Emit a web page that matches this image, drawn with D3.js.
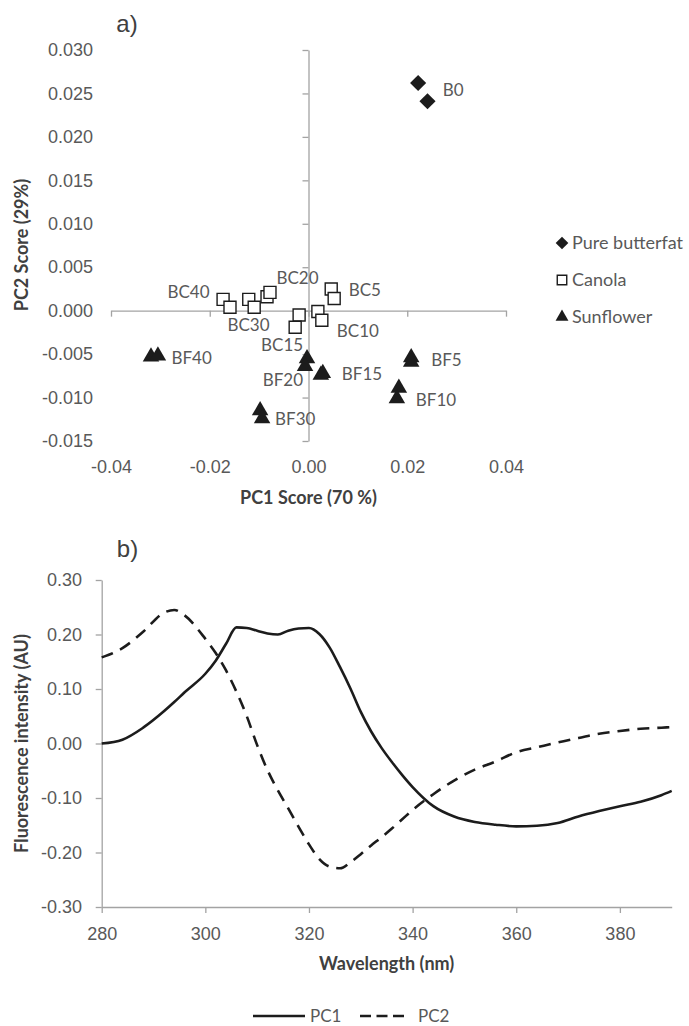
<!DOCTYPE html>
<html>
<head>
<meta charset="utf-8">
<script src="https://cdn.jsdelivr.net/npm/d3@7"></script>
<style>
  body { margin: 0; background: #fff; }
  svg { display: block; font-family: Lato, "Open Sans", sans-serif; }
</style>
</head>
<body>
<svg id="fig" width="689" height="1026"></svg>
<script>
// ---- panel a) PCA scores ----
var sampleNames = ["B0","BC5","BC10","BC15","BC20","BC30","BC40","BF5","BF10","BF15","BF20","BF30","BF40"];
var sampleOil = ["Pure butterfat","Canola","Canola","Canola","Canola","Canola","Canola",
                 "Sunflower","Sunflower","Sunflower","Sunflower","Sunflower","Sunflower"];
var pc1Rep1 = [0.0222, 0.0046, 0.0019, -0.0019, -0.0084, -0.0121, -0.0173, 0.0208, 0.0183, 0.0025, -0.0003, -0.0098, -0.0319];
var pc2Rep1 = [0.0262, 0.0025, -0.0001, -0.0005, 0.0016, 0.0013, 0.0013, -0.0054, -0.0089, -0.0074, -0.0055, -0.0115, -0.0053];
var pc1Rep2 = [0.0241, 0.0052, 0.0027, -0.0027, -0.0078, -0.0110, -0.0159, 0.0208, 0.0179, 0.0029, -0.0007, -0.0094, -0.0305];
var pc2Rep2 = [0.0241, 0.0014, -0.0011, -0.0019, 0.0021, 0.0004, 0.0004, -0.0059, -0.0101, -0.0072, -0.0064, -0.0124, -0.0052];
var oilTypes = ["Pure butterfat","Canola","Sunflower"];
var pc1Ticks = [-0.04, -0.02, 0, 0.02, 0.04];
var pc2Ticks = [-0.015, -0.010, -0.005, 0, 0.005, 0.010, 0.015, 0.020, 0.025, 0.030];

// ---- panel b) loadings ----
var wavelengths = [280, 284, 288, 292, 294, 296, 300, 302, 304, 306, 308, 310, 312, 314, 316, 318, 320, 322, 324, 326, 328, 330,
                   332, 334, 336, 338, 340, 344, 348, 352, 356, 360, 364, 368, 372, 376, 380, 384, 388, 390];
var pc1Loadings = [0.000, 0.007, 0.029, 0.059, 0.076, 0.094, 0.128, 0.152, 0.183, 0.213, 0.212, 0.207, 0.202, 0.200, 0.207, 0.211,
                   0.212, 0.201, 0.176, 0.140, 0.101, 0.058, 0.022, -0.008, -0.034, -0.058, -0.080, -0.115, -0.134, -0.144,
                   -0.149, -0.152, -0.151, -0.146, -0.134, -0.124, -0.115, -0.107, -0.095, -0.087];
var pc2Loadings = [0.158, 0.175, 0.205, 0.240, 0.245, 0.235, 0.192, 0.166, 0.134, 0.095, 0.050, -0.003, -0.049, -0.086, -0.119,
                   -0.153, -0.185, -0.212, -0.226, -0.229, -0.218, -0.203, -0.187, -0.172, -0.156, -0.139, -0.122, -0.093,
                   -0.068, -0.048, -0.033, -0.016, -0.007, 0.002, 0.010, 0.018, 0.023, 0.027, 0.029, 0.030];
var wlTicks = [280, 300, 320, 340, 360, 380];
var loadTicks = [-0.3, -0.2, -0.1, 0, 0.1, 0.2, 0.3];
var seriesNames = ["PC1","PC2"];

// label placement (pixels from the mean of the two replicates)
var labelPos = {
  B0:{a:"start",dx:20,dy:-2}, BC5:{a:"start",dx:16,dy:-4}, BC10:{a:"middle",dx:38,dy:15},
  BC15:{a:"middle",dx:-15,dy:24}, BC20:{a:"middle",dx:29,dy:-17}, BC30:{a:"middle",dx:-3,dy:22},
  BC40:{a:"end",dx:-17,dy:-11}, BF5:{a:"start",dx:20,dy:0}, BF10:{a:"start",dx:18,dy:7},
  BF15:{a:"start",dx:20,dy:0}, BF20:{a:"end",dx:-3,dy:18}, BF30:{a:"start",dx:14,dy:4},
  BF40:{a:"start",dx:17,dy:2}
};

var axisGrey = "#a3a3a3", tickText = "#595959", titleText = "#404040", ink = "#1c1c1c";
var svg = d3.select("#fig");

function styleAxis(g){
  g.selectAll("path,line").attr("stroke", axisGrey).attr("stroke-width", 1.3);
  g.selectAll("text").attr("fill", tickText).style("font-size", "18px");
}

// ================= a) =================
var xa = d3.scaleLinear().domain([-0.04, 0.04]).range([111, 506]);
var ya = d3.scaleLinear().domain([-0.015, 0.030]).range([441, 50]);

svg.append("g").attr("transform", "translate(0," + ya(0) + ")")
  .call(d3.axisBottom(xa).tickValues(pc1Ticks).tickSize(6).tickSizeOuter(0).tickFormat(""))
  .call(styleAxis);
svg.append("g").attr("transform", "translate(" + xa(0) + ",0)")
  .call(d3.axisLeft(ya).tickValues(pc2Ticks).tickSize(6).tickSizeOuter(0).tickFormat(""))
  .call(styleAxis);
// tick labels sit at the plot edges
svg.append("g").attr("transform", "translate(0,441)")
  .call(d3.axisBottom(xa).tickValues(pc1Ticks).tickSize(0).tickPadding(19).tickFormat(function(d){return d.toFixed(2);}))
  .call(styleAxis).call(function(g){ g.select(".domain").remove(); });
svg.append("g").attr("transform", "translate(93,0)")
  .call(d3.axisLeft(ya).tickValues(pc2Ticks).tickSize(0).tickPadding(0).tickFormat(function(d){return d.toFixed(3);}))
  .call(styleAxis).call(function(g){ g.select(".domain").remove(); });

svg.append("text").attr("x", 308.5).attr("y", 504).attr("text-anchor", "middle")
  .attr("fill", titleText).style("font-size", "18px").style("font-weight", "bold").text("PC1 Score (70 %)");
svg.append("text").attr("transform", "translate(28,245) rotate(-90)").attr("text-anchor", "middle")
  .attr("fill", titleText).style("font-size", "18px").style("font-weight", "bold").text("PC2 Score (29%)");
svg.append("text").attr("x", 127).attr("y", 32).attr("text-anchor", "middle")
  .attr("fill", titleText).style("font-family", "'Liberation Sans', Arial, sans-serif").style("font-size", "24px").text("a)");

function marker(oil, big){
  if (oil == "Pure butterfat") return d3.symbol().type(d3.symbolSquare).size(big ? 130 : 80)();
  if (oil == "Canola") return d3.symbol().type(d3.symbolSquare).size(big ? 144 : 90)();
  return d3.symbol().type(d3.symbolTriangle).size(big ? 118 : 72)();
}
function markerStyle(sel){
  sel.attr("fill", function(d){ return d.oil == "Canola" ? "#fff" : ink; })
     .attr("stroke", function(d){ return d.oil == "Canola" ? ink : "none"; })
     .attr("stroke-width", 1.4);
}

var points = [];
sampleNames.forEach(function(n, i){
  points.push({name:n, oil:sampleOil[i], pc1:pc1Rep1[i], pc2:pc2Rep1[i]});
  points.push({name:n, oil:sampleOil[i], pc1:pc1Rep2[i], pc2:pc2Rep2[i]});
});

svg.append("g").selectAll("path").data(points).enter().append("path")
  .attr("d", function(d){ return marker(d.oil, true); })
  .attr("transform", function(d){
    return "translate(" + xa(d.pc1) + "," + ya(d.pc2) + ")" + (d.oil == "Pure butterfat" ? " rotate(45)" : "");
  })
  .call(markerStyle);

svg.append("g").selectAll("text").data(sampleNames).enter().append("text")
  .attr("x", function(n, i){ return (xa(pc1Rep1[i]) + xa(pc1Rep2[i])) / 2 + labelPos[n].dx; })
  .attr("y", function(n, i){ return (ya(pc2Rep1[i]) + ya(pc2Rep2[i])) / 2 + labelPos[n].dy; })
  .attr("dy", "0.36em")
  .attr("text-anchor", function(n){ return labelPos[n].a; })
  .attr("fill", tickText).style("font-size", "17px")
  .text(function(n){ return n; });

var leg = svg.append("g").selectAll("g").data(oilTypes).enter().append("g")
  .attr("transform", function(d, i){ return "translate(562," + (243 + i * 37) + ")"; });
leg.append("path").datum(function(d){ return {oil:d}; })
  .attr("d", function(d){ return marker(d.oil, false); })
  .attr("transform", function(d){ return d.oil == "Pure butterfat" ? "rotate(45)" : null; })
  .call(markerStyle);
leg.append("text").attr("x", 10).attr("dy", "0.36em").attr("fill", tickText).style("font-size", "18px")
  .text(function(d){ return d; });

// ================= b) =================
var xb = d3.scaleLinear().domain([280, 390]).range([101.7, 671.7]);
var yb = d3.scaleLinear().domain([-0.3, 0.3]).range([907, 580]);

svg.append("g").attr("transform", "translate(0,907)")
  .call(d3.axisBottom(xb).tickValues(wlTicks).tickSize(6).tickSizeOuter(0).tickPadding(14.5).tickFormat(d3.format("d")))
  .call(styleAxis);
svg.append("g").attr("transform", "translate(101.7,0)")
  .call(d3.axisLeft(yb).tickValues(loadTicks).tickSize(6).tickSizeOuter(0).tickPadding(13.7)
    .tickFormat(function(d){ return d.toFixed(2); }))
  .call(styleAxis);

svg.append("text").attr("x", 386.7).attr("y", 970).attr("text-anchor", "middle")
  .attr("fill", titleText).style("font-size", "18px").style("font-weight", "bold").text("Wavelength (nm)");
svg.append("text").attr("transform", "translate(28,743.5) rotate(-90)").attr("text-anchor", "middle")
  .attr("fill", titleText).style("font-size", "18px").style("font-weight", "bold").text("Fluorescence intensity (AU)");
svg.append("text").attr("x", 127.5).attr("y", 557).attr("text-anchor", "middle")
  .attr("fill", titleText).style("font-family", "'Liberation Sans', Arial, sans-serif").style("font-size", "24px").text("b)");

var line = d3.line()
  .x(function(d){ return xb(d[0]); })
  .y(function(d){ return yb(d[1]); })
  .curve(d3.curveMonotoneX);
var loadings = [pc1Loadings, pc2Loadings];
var dashes = [null, "12,8"];

svg.append("g").selectAll("path").data(loadings).enter().append("path")
  .attr("d", function(vals){ return line(wavelengths.map(function(w, i){ return [w, vals[i]]; })); })
  .attr("fill", "none").attr("stroke", ink).attr("stroke-width", 2.6)
  .attr("stroke-dasharray", function(d, i){ return dashes[i]; });

var lg = svg.append("g").selectAll("g").data(seriesNames).enter().append("g")
  .attr("transform", function(d, i){ return "translate(" + (253 + i * 107) + ",1016)"; });
lg.append("line").attr("x1", 0).attr("x2", function(d, i){ return i ? 44 : 52; })
  .attr("stroke", ink).attr("stroke-width", 2.6)
  .attr("stroke-dasharray", function(d, i){ return i ? "11,5.5" : null; });
lg.append("text").attr("x", function(d, i){ return i ? 58 : 57; }).attr("dy", "0.34em")
  .attr("fill", tickText).style("font-size", "17px").text(function(d){ return d; });
</script>
</body>
</html>
